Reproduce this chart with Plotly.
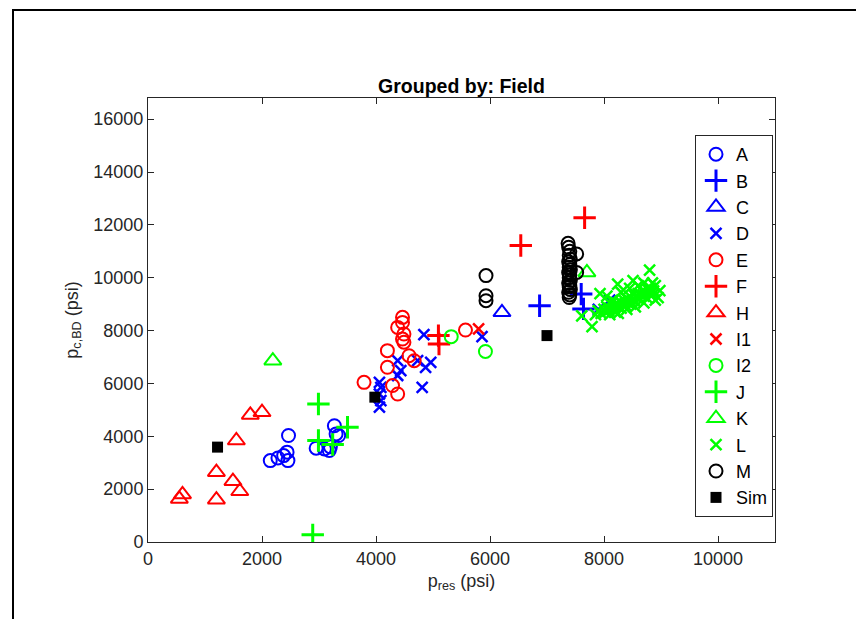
import plotly.graph_objects as go

# ---- data (psi) ----
A_x = [2145, 2280, 2380, 2440, 2455, 2465, 2950, 3095, 3180, 3270, 3300, 3345, 3200]
A_y = [3080, 3180, 3270, 3400, 3080, 4030, 3550, 3520, 3460, 4400, 4090, 4030, 3600]
B_x = [6870, 7600, 7640]
B_y = [8940, 9380, 8820]
C_x = [6210]
C_y = [8690]
D_x = [4840, 4380, 4730, 4960, 4870, 4435, 4380, 4060, 4085, 4060, 4085, 4060, 4810, 5860, 8100, 7900]
D_y = [7850, 6860, 6860, 6800, 6610, 6480, 6300, 6040, 5850, 5600, 5350, 5100, 5850, 7770, 9150, 8800]
E_x = [4465, 4465, 4380, 4490, 4465, 4490, 4200, 4580, 4670, 4200, 3790, 4290, 4380, 5570]
E_y = [8500, 8310, 8120, 7870, 7680, 7560, 7240, 7050, 6860, 6610, 6040, 5920, 5600, 8020]
F_x = [5095, 5105, 6540, 7660]
F_y = [7810, 7490, 11220, 12270]
H_x = [550, 605, 1200, 1200, 1490, 1610, 1550, 1795, 2000]
H_y = [1630, 1800, 2640, 1600, 2300, 1920, 3840, 4810, 4910]
I1_x = [5800]
I1_y = [8060]
I2_x = [5320, 5920]
I2_y = [7770, 7210]
J_x = [2990, 2990, 3240, 3500, 2890]
J_y = [5220, 3840, 3690, 4340, 270]
K_x = [2190, 7700]
K_y = [6860, 10200]
L_x = [7610, 7790, 7930, 8240, 8510, 8800, 8980, 8950,
       7850, 7900, 7950, 8000, 8020, 8050, 8080, 8100, 8120, 8150, 8180, 8200,
       8220, 8250, 8280, 8300, 8320, 8350, 8380, 8400, 8420, 8450, 8470, 8500,
       8520, 8550, 8570, 8600, 8620, 8650, 8670, 8700, 8720, 8750, 8770, 8800,
       8820, 8850, 8870, 8900, 8150, 8050, 8300, 8450, 8600, 8700, 8850, 8100,
       8250, 8400, 8550, 8700, 8900]
L_y = [8560, 8150, 9400, 9760, 9890, 10290, 9510, 9250,
       8600, 8750, 8650, 8800, 8700, 8900, 8750, 8850, 9000, 8800, 8950, 8700,
       9050, 8900, 9100, 8850, 9000, 9150, 8950, 9200, 9050, 9300, 9000, 9150,
       9350, 9100, 9250, 9400, 9200, 9350, 9500, 9300, 9450, 9250, 9550, 9400,
       9600, 9350, 9500, 9700, 9150, 9300, 9450, 9600, 9700, 9800, 9800, 8600,
       8650, 8800, 8900, 9050, 9150]
M_x = [5930, 5930, 5930, 7520, 7520,
       7390, 7400, 7380, 7410, 7390, 7400, 7380, 7410, 7390, 7400,
       7380, 7410, 7390, 7400, 7380, 7410, 7390, 7400, 7380, 7370]
M_y = [10080, 9320, 9130, 10900, 10200,
       9250, 9350, 9450, 9550, 9650, 9700, 9800, 9900, 10000, 10100,
       10200, 10300, 10400, 10500, 10600, 10700, 10850, 11000, 11150, 11300]
Sim_x = [1220, 3980, 7000]
Sim_y = [3590, 5480, 7810]

BLUE, RED, GREEN, BLACK = "#0000FF", "#FF0000", "#00FF00", "#000000"

series = [
    ("A", A_x, A_y, "circle-open", BLUE, 13, 2),
    ("B", B_x, B_y, "cross-thin-open", BLUE, 16, 3),
    ("C", C_x, C_y, "triangle-up-open", BLUE, 15, 2),
    ("D", D_x, D_y, "x-thin-open", BLUE, 11, 2.5),
    ("E", E_x, E_y, "circle-open", RED, 13, 2),
    ("F", F_x, F_y, "cross-thin-open", RED, 16, 3),
    ("H", H_x, H_y, "triangle-up-open", RED, 15, 2),
    ("I1", I1_x, I1_y, "x-thin-open", RED, 11, 2.5),
    ("I2", I2_x, I2_y, "circle-open", GREEN, 13, 2),
    ("J", J_x, J_y, "cross-thin-open", GREEN, 16, 3),
    ("K", K_x, K_y, "triangle-up-open", GREEN, 15, 2),
    ("L", L_x, L_y, "x-thin-open", GREEN, 11, 2.5),
    ("M", M_x, M_y, "circle-open", BLACK, 13, 2),
    ("Sim", Sim_x, Sim_y, "square", BLACK, 11, 0),
]

fig = go.Figure()
for i, (name, xs, ys, sym, col, size, lw) in enumerate(series):
    fig.add_trace(go.Scatter(
        x=xs, y=ys, mode="markers", name=name, legendgroup=name,
        marker=dict(symbol=sym, color=col, size=size,
                    line=dict(color=col, width=lw)),
    ))

L_ = 148; T_ = 98; R_ = 775; B_ = 542
W, H = 856, 619
pw, ph = R_ - L_, B_ - T_

def px(xp):
    return (xp - L_) / pw

def py(yp):
    return (B_ - yp) / ph

FONT = "Liberation Sans, Arial"
axis_common = dict(
    showline=True, linecolor="#262626", linewidth=1, mirror="ticks",
    ticks="inside", ticklen=6, tickcolor="#262626", tickwidth=1,
    showgrid=False, zeroline=False,
    tickfont=dict(family=FONT, size=18, color="#262626"),
)

fig.update_layout(
    width=W, height=H,
    margin=dict(l=L_, r=W - R_, t=T_, b=H - B_),
    paper_bgcolor="white", plot_bgcolor="white",
    font=dict(family=FONT, color="#262626"),
    title=dict(text="<b>Grouped by: Field</b>", x=(L_ + pw / 2) / W, xanchor="center",
               y=1 - 86 / H, yanchor="middle",
               font=dict(family=FONT, size=19.5, color="#000000")),
    xaxis=dict(range=[0, 11000], tickvals=[0, 2000, 4000, 6000, 8000, 10000],
               ticktext=["0", "2000", "4000", "6000", "8000", "10000"],
               title=dict(text="p<sub>res</sub> (psi)", font=dict(size=18, color="#262626"), standoff=6),
               **axis_common),
    yaxis=dict(range=[0, 16800], tickvals=list(range(0, 16001, 2000)),
               ticktext=[str(v) for v in range(0, 16001, 2000)],
               title=dict(text="p<sub>c,BD</sub> (psi)", font=dict(size=18, color="#262626"), standoff=10),
               **axis_common),
    legend=dict(x=px(695), y=py(135), xanchor="left", yanchor="top",
                bgcolor="white", bordercolor="#262626", borderwidth=1,
                font=dict(family=FONT, size=18, color="#000000"),
                traceorder="grouped", tracegroupgap=0, itemwidth=30),
    showlegend=True,
    shapes=[dict(type="rect", xref="paper", yref="paper",
                 x0=px(13), x1=px(870), y0=py(630), y1=py(10),
                 line=dict(color="black", width=2), fillcolor="rgba(0,0,0,0)", layer="above")],
)

fig.write_html("out.html", config={"displayModeBar": False},
               post_script="document.body.style.margin='0';")
